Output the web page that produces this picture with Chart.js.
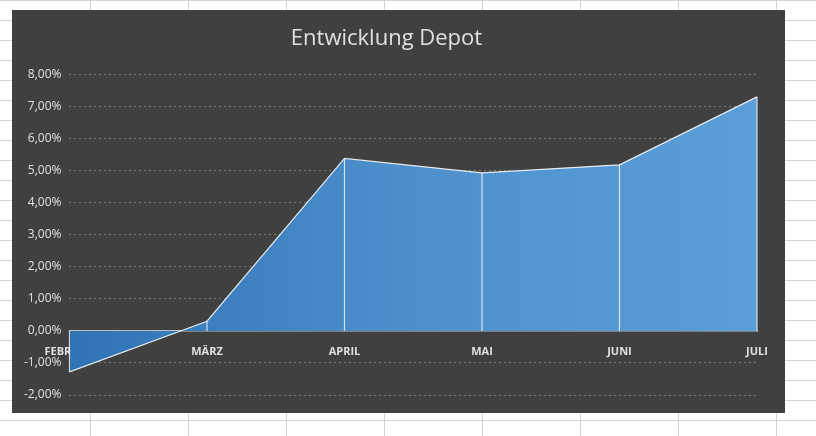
<!DOCTYPE html>
<html><head><meta charset="utf-8">
<script src="https://cdn.jsdelivr.net/npm/chart.js@4"></script>
<style>
html,body{margin:0;padding:0;width:816px;height:436px;overflow:hidden;background:#fff;
background-image:linear-gradient(#d4d4d4 1px,transparent 1px),linear-gradient(90deg,#d4d4d4 1px,transparent 1px);
background-size:98px 20px;background-position:-8px 0;}
#wrap{position:absolute;left:12px;top:10px;width:773px;height:403px;background:#404040;}
</style></head><body>
<div id="wrap"><canvas id="c"></canvas></div>
<script>
const categories=["FEBRUAR","MÄRZ","APRIL","MAI","JUNI","JULI"];
const values=[-1.28,0.3,5.38,4.93,5.18,7.3];
const yTicks={min:-2,max:8,step:1};

const dropLines={id:'drop',afterDatasetsDraw(ch){
 const ctx=ch.ctx,meta=ch.getDatasetMeta(0),y0=ch.scales.y.getPixelForValue(0);
 ctx.save();ctx.strokeStyle='rgba(255,255,255,0.75)';ctx.lineWidth=1.2;
 meta.data.forEach(p=>{ctx.beginPath();ctx.moveTo(p.x,p.y);ctx.lineTo(p.x,y0);ctx.stroke();});
 ctx.restore();}};

new Chart(document.getElementById('c'),{
 type:'line',
 data:{labels:categories,datasets:[{data:values,fill:'origin',
  borderColor:'rgba(255,255,255,0.85)',borderWidth:1.2,pointRadius:0,tension:0,
  backgroundColor:(c)=>{const a=c.chart.chartArea;if(!a)return '#4a8ccc';
   const g=c.chart.ctx.createLinearGradient(a.left,0,a.right,0);
   g.addColorStop(0,'#2f73b5');g.addColorStop(0.5,'#4d90cc');g.addColorStop(1,'#5b9fd8');return g;}}]},
 options:{responsive:true,maintainAspectRatio:false,animation:false,
  layout:{padding:{left:4,right:28,top:0,bottom:18}},
  plugins:{legend:{display:false},tooltip:{enabled:false},
   title:{display:true,text:'Entwicklung Depot',color:'#e0e0e0',
    font:{family:'Open Sans',size:22,weight:'normal'},padding:{top:16,bottom:22}}},
  scales:{
   x:{position:{y:0},offset:false,grid:{display:false},border:{color:'#bfbfbf',width:1.5},
    ticks:{color:'#e0e0e0',font:{family:'Open Sans',size:11,weight:'bold'},maxRotation:0,padding:6}},
   y:{min:yTicks.min,max:yTicks.max,
    ticks:{stepSize:yTicks.step,color:'#e0e0e0',font:{family:'Open Sans',size:12},padding:8,
     callback:v=>v.toFixed(2).replace('.',',')+'%'},
    grid:{color:'#7a7a7a',lineWidth:1,drawTicks:false},border:{display:false,dash:[2,3]}}}}
 ,plugins:[dropLines]});
</script></body></html>
